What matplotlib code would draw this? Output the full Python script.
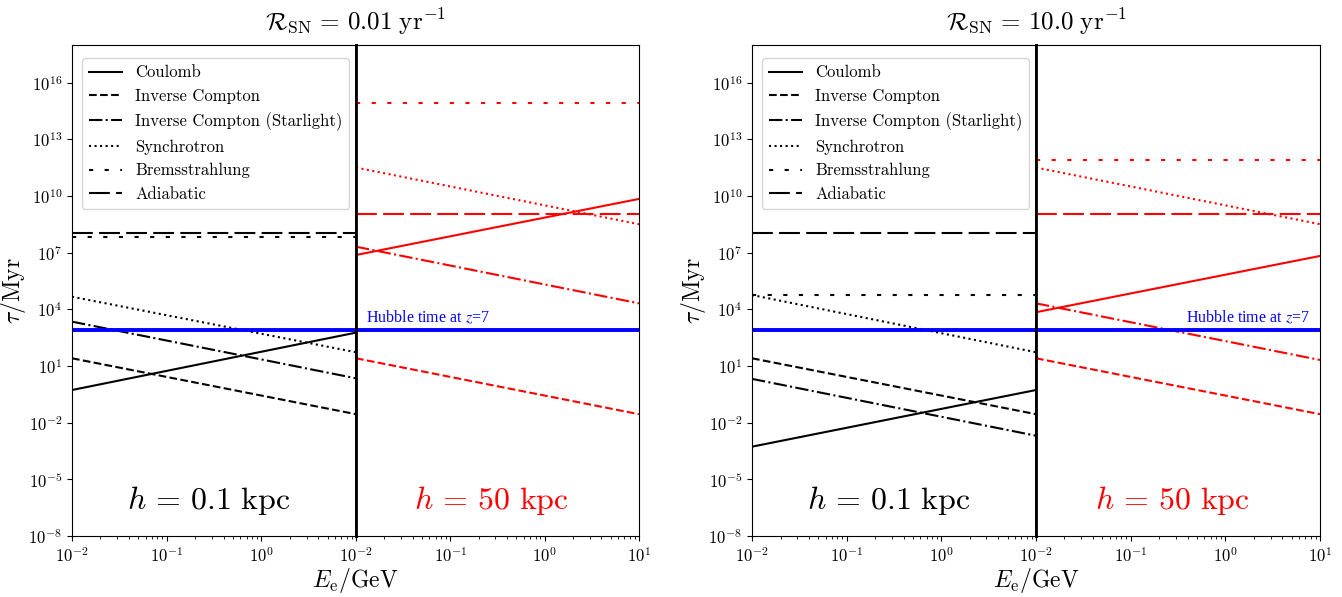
import numpy as np
import matplotlib
matplotlib.use("Agg")
import matplotlib.pyplot as plt

# =============================
# STYLE
# =============================

plt.rcParams["mathtext.fontset"] = "cm"
plt.rcParams["font.family"] = "serif"
plt.rcParams["font.serif"] = ["cmr10"]
plt.rcParams["axes.formatter.use_mathtext"] = True
plt.rcParams["axes.unicode_minus"] = False

# =============================
# DATA (log10 of tau / Myr at E = 1e-2 and 1e1 GeV)
# =============================

energy_ends = [1e-2, 1e1]
processes = ["Coulomb", "Inverse Compton", "Inverse Compton (Starlight)",
             "Synchrotron", "Bremsstrahlung", "Adiabatic"]
rates = ["0.01", "10.0"]

# R_SN = 0.01 / yr
low_h01 = [[-0.27, 2.77], [1.41, -1.55], [3.35, 0.35],
           [4.67, 1.73], [7.82, 7.82], [8.07, 8.07]]
low_h50 = [[6.88, 9.85], [1.41, -1.55], [7.32, 4.32],
           [11.51, 8.51], [14.92, 14.92], [9.07, 9.07]]

# R_SN = 10 / yr
high_h01 = [[-3.27, -0.27], [1.41, -1.55], [0.32, -2.69],
            [4.76, 1.73], [4.76, 4.76], [8.07, 8.07]]
high_h50 = [[3.85, 6.83], [1.41, -1.55], [4.32, 1.32],
            [11.51, 8.51], [11.92, 11.92], [9.07, 9.07]]

hubble_time_z7 = 10**2.9  # Myr

styles = ["-", "--", "-.", ":", (0, (2, 5.5)), (0, (10, 3))]

# =============================
# FIGURE
# =============================

fig = plt.figure(figsize=(13.42, 5.97), dpi=100)

bottom, height = 0.1022, 0.8224
panel_lefts = [(0.05365, 0.26528, 0.47615), (0.56036, 0.77198, 0.98361)]
panel_data = [(low_h01, low_h50), (high_h01, high_h50)]

for p, (x0, xm, x1) in enumerate(panel_lefts):
    ax_a = fig.add_axes([x0, bottom, xm - x0, height])
    ax_b = fig.add_axes([xm, bottom, x1 - xm, height])
    data_a, data_b = panel_data[p]

    for ax, data, color in [(ax_a, data_a, "black"), (ax_b, data_b, "red")]:
        for name, vals, ls in zip(processes, data, styles):
            ax.plot(energy_ends, 10**np.array(vals), color=color, ls=ls,
                    lw=1.5, label=name)
        ax.axhline(hubble_time_z7, color="blue", lw=2.8)
        ax.set_xscale("log")
        ax.set_yscale("log")
        ax.set_xlim(1e-2, 1e1)
        ax.set_ylim(1e-8, 1e18)
        ax.set_yticks([10.0**k for k in range(-8, 17, 3)])
        ax.yaxis.set_minor_locator(matplotlib.ticker.NullLocator())
        ax.tick_params(labelsize=12)

    # left half keeps y labels, right half none
    ax_a.set_xticks([1e-2, 1e-1, 1e0])
    ax_b.set_xticks([1e-2, 1e-1, 1e0, 1e1])
    ax_b.tick_params(axis="y", left=False, labelleft=False)
    ax_a.spines["right"].set_linewidth(2.0)
    ax_b.spines["left"].set_linewidth(2.0)

    ax_a.set_ylabel(r"$\tau/{\rm Myr}$", fontsize=17)
    ax_a.yaxis.set_label_coords(-0.155, 0.5)
    ax_a.legend(loc="upper left", fontsize=12, borderaxespad=0.6,
                bbox_to_anchor=(0.0, 0.993))

    ax_a.text(0.48, 0.072, r"$h \,=\, 0.1\ {\rm kpc}$", transform=ax_a.transAxes,
              fontsize=23, ha="center", va="center", color="black")
    ax_b.text(0.48, 0.072, r"$h \,=\, 50\ {\rm kpc}$", transform=ax_b.transAxes,
              fontsize=23, ha="center", va="center", color="red")

    if p == 0:
        ax_b.text(0.035, 0.435, "Hubble time at $z$=7", transform=ax_b.transAxes,
                  color="blue", fontsize=11.5, family="Liberation Serif",
                  math_fontfamily="stix", ha="left", va="baseline")
    else:
        ax_b.text(0.965, 0.435, "Hubble time at $z$=7", transform=ax_b.transAxes,
                  color="blue", fontsize=11.5, family="Liberation Serif",
                  math_fontfamily="stix", ha="right", va="baseline")

    xc = (x0 + x1) / 2
    fig.text(xc, 0.963, r"$\mathcal{R}_{\rm SN} \,=\, %s\ {\rm yr}^{-1}$" % rates[p],
             fontsize=18, ha="center", va="center")
    fig.text(xc, 0.028, r"$E_{\rm e}/{\rm GeV}$", fontsize=17,
             ha="center", va="center")

fig.savefig("out.png", dpi=100)
